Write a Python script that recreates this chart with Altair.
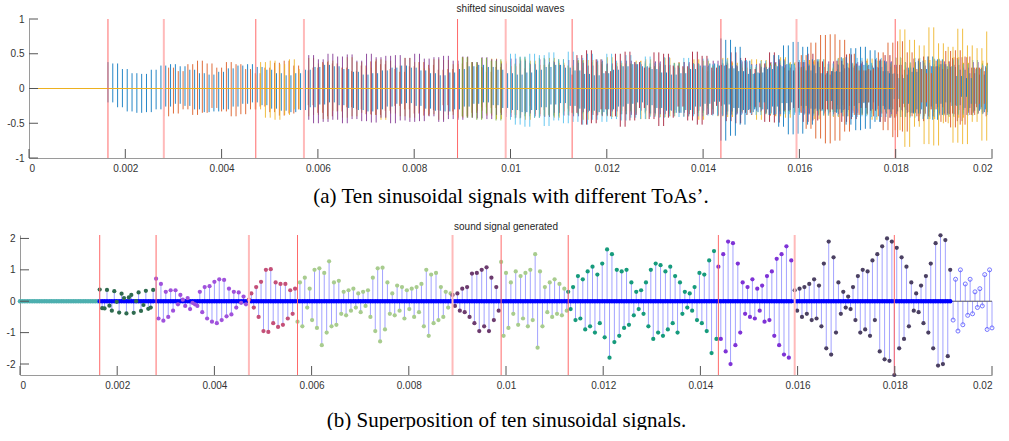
import altair as alt
import pandas as pd

# ------------------------------------------------------------------ data
toa = [0.00164, 0.0028, 0.00471, 0.00571, 0.0089, 0.0099, 0.01128, 0.01437, 0.01594, 0.01799]
signal_end = 0.0192
x_ticks = [0, 0.002, 0.004, 0.006, 0.008, 0.01, 0.012, 0.014, 0.016, 0.018, 0.02]
top_y_ticks = [-1, -0.5, 0, 0.5, 1]
bot_y_ticks = [-2, -1, 0, 1, 2]

# top panel: samples of each shifted wave (hundredths)
wave_01 = [38,-20,36,-27,28,-33,22,-35,21,-34,27,-30,
    33,-26,35,-22,32,-25,27,-30,22,-34,20,-33,24,-30,29,-26,33,-22,35,-20,
    31,-24,27,-29,22,-32,19,-34,22,-31,27,-27,31,-23,34,-20,32,-24,28,-28,
    24,-31,20,-33,22,-30,26,-26,30,-22,33,-21,30,-25,26,-29,22,-32,19,-33,
    23,-30,28,-26,32,-22,34,-20,31,-24,27,-28,22,-31,20,-34,23,-31,27,-27,
    31,-23,34,-21,30,-25,26,-29,21,-32,19,-34,22,-30,27,-26,32,-22,35,-20,
    32,-24,28,-28,23,-32,20,-35,22,-31,28,-26,33,-22,36,-19,33,-23,29,-28,
    25,-31,21,-34,23,-30,28,-26,32,-21,35,-20,31,-25,26,-29,22,-33,20,-34,
    24,-30,29,-25,33,-21,34,-20,30,-25,25,-30,21,-33,20,-35,24,-30,28,-26,
    32,-22,35,-20,31,-24,27,-28,22,-32,20,-34]
wave_02 = [38,-40,30,-36,25,-30,35,-38,40,-35,36,-28,30,-33,38,-40,35,-37,28,-30,
    22,-26,30,-34,37,-39,40,-36,33,-30,26,-24,30,-35,38,-40,36,-33,30,-27,
    25,-30,33,-37,39,-38,35,-32,28,-25,24,-30,32,-36,38,-39,34,-31,27,-24,
    28,-33,36,-40,38,-35,31,-27,24,-28,31,-35,39,-38,36,-32,29,-25,26,-31,
    34,-38,40,-36,33,-29,25,-27,30,-34,38,-39,35,-31,28,-24,27,-32,35,-38,
    39,-36,32,-28,24,-26,31,-35,38,-40,36,-32,29,-25,25,-30,34,-37,39,-37,
    33,-29,26,-25,29,-34,37,-39,37,-33,30,-26,24,-28,32,-36,39,-38,35,-31,
    28,-24,26,-31,35,-38,40,-36,33,-29,25,-27,31,-35,38,-40,36,-32,29,-25,
    25,-30,34,-37,39,-37,33,-29,26,-25,29,-34,37]
wave_03 = [20,-30,38,-42,40,-45,35,-38,42,-30,28,-40,44,-38,36,-44,40,-32,30,-42,
    45,-40,38,-35,30,-38,42,-45,40,-36,33,-40,44,-42,38,-33,29,-37,42,-45,
    41,-38,35,-42,45,-40,36,-32,30,-39,43,-44,39,-35,32,-38,42,-45,40,-37,
    34,-40,44,-42,37,-33,30,-37,41,-45,41,-38,34,-40,45,-41,37,-32,29,-36,
    40,-44,42,-39,35,-41,44,-40,36,-31,29,-37,42,-45,40,-36,33,-40,44,-41,
    37,-33,30,-38,42,-45,41,-37,34,-40,45,-42,38,-33,29,-36,41,-44,42,-39,
    35,-41,44,-40,36,-32,30,-38,43,-45,40,-36,33,-40,44,-41,37,-33,30,-37,
    41,-44,42,-38,35,-41,45,-42,37,-33,30,-36,40]
wave_04 = [30,-45,48,-50,42,-48,50,-45,46,-50,49,-44,40,-47,50,-49,45,-42,47,-50,
    48,-46,44,-48,50,-47,43,-40,45,-48,47,-44,40,-45,46,-42,38,-43,45,-44,
    42,-38,36,-41,43,-42,40,-36,35,-40,42,-41,38,-35,34,-39,41,-40,37,-34,
    33,-38,40,-39,36,-33,32,-37,40,-38,35,-32,31,-36,39,-37,34,-31,30,-35,
    38,-37,35,-32,33,-37,40,-39,36,-33,32,-36,39,-38,35,-32,31,-35,38,-37,
    34,-31,30,-35,38,-36,33,-30,31,-36,39,-37,34,-31,30,-35,38,-36,33,-30,
    31,-36,39,-37,34,-31,30,-35,38,-36,33,-30,31,-36,39,-37,34,-31,30,-35,
    38,-36,33]
wave_05 = [25,-40,45,-42,38,-45,44,-36,40,-46,42,-38,35,-43,45,-40,37,-42,44,-39,
    36,-40,42,-38,33,-37,40,-36,32,-35,38,-37,33,-30,34,-37,36,-33,30,-34,
    36,-35,32,-30,33,-36,37,-33,30,-34,36,-35,31,-29,33,-36,37,-33,30,-34,
    36,-34,31,-29,33,-36,36,-33,30,-34,36,-34,31,-29,33,-36,37,-33,30,-34,
    35,-34,31,-29,32,-36,36,-33,30,-34,36,-34,31,-29,33,-36,37,-33,30,-34,
    35,-34,31,-29,33,-36,36,-33,30,-34,36,-34]
wave_06 = [30,-45,50,-52,46,-55,50,-42,48,-54,52,-46,42,-50,53,-48,44,-52,50,-45,
    42,-48,50,-44,40,-46,48,-42,38,-44,46,-41,37,-42,45,-40,36,-41,44,-40,
    36,-40,43,-39,35,-39,42,-38,34,-38,41,-37,34,-38,40,-37,33,-37,40,-37,
    34,-38,41,-38,35,-39,42,-39,36,-40,43,-40,37,-41,44,-40,37,-41,44,-41,
    38,-42,45,-41,38,-42,44,-40,37,-41,43,-39,36,-40,42,-38,35,-39,41,-37,
    34,-38]
wave_07 = [20,-35,48,-52,55,-50,42,-30,25,-40,50,-55,53,-46,38,-28,30,-44,52,-54,
    50,-42,33,-26,32,-46,53,-52,47,-38,30,-25,34,-47,52,-50,44,-35,28,-27,
    36,-48,52,-49,42,-32,26,-28,38,-48,50,-46,39,-30,25,-30,40,-48,49,-44,
    36,-28,26,-32,42,-48,48,-42,34,-27,27,-34,43,-47,46,-40,32,-27,28,-36,
    44,-47,45,-38,30,-27,30,-40]
wave_08 = [72,-75,70,-68,60,-52,40,-30,
    22,-20,30,-38,
    48,-55,62,-66,67,-65,60,-52,42,-32,
    22,-18,25,-35,
    45,-52,58,-60,60,-58,55,-48,40,-30,22,-15,
    15,-22,30,-36,
    40,-44,46,-45,42,-38,32,-25,18,-12,
    15,-22,28,-30,32]
wave_09 = [25,-35,48,-58,66,
    -72,77,-79,78,-75,70,-62,
    50,-38,26,-20,
    28,-40,52,-60,66,-70,68,-62,52,-40,
    28,-20,22,-30,
    40,-48,54,-56,55,-52,46,-38,30,-22,25]
wave_10 = [30,-60,85,-84,70,-55,62,-80,88,-82,65,-50,60,-78,86,-80,62,-48,58,-75,82]

# bottom panel: superposed signal samples per ToA segment (hundredths)
seg_a = [37,-22,-23,36,-14,-30,32,-2,-36,24,10,-39,12,20,-37,0,28,-31,-12,33,-24,-20,36]
seg_b = [72,-55,55,-62,30,-50,35,-30,35,-10,20,5,-15,10,-25,-5,-10,-15,30,-35,
    45,-55,48,-65,62,-70,70,-60,68,-48,40,-42,30,-20,28,-5,15,-10]
seg_c = [5,25,-20,45,-50,62,-95,100,-98,102,-70,60,-82,55,-75,55,-55,35,-40,40]
seg_d = [-65,60,-80,75,-20,40,-60,100,-85,105,-140,90,-100,127,-80,60,-75,65,-40,30,
    -45,35,-30,40,-20,25,-35,30,-15,35,-50,75,-95,105,-128,107,-90,60,-40,25,
    -45,50,-30,45,-55,35,-25,40,-50,45,-35,55,-80,100,-110,85,-70,90,-60,45,
    -50,30,-20,25]
seg_e = [20,-15,25,-30,40,-35,45,-50,88,-70,90,-95,100,-80,108,-95,75,-60,45,-30]
seg_f = [125,-110,90,-85,60,-40,95,-75,80,-55,90,-80,100,-60,150,-148,95,-80,45,-35,
    60,-50,70,-40,55,-45,40,-30]
seg_g = [30,-25,45,-60,80,-55,70,-90,95,-80,110,-100,85,-70,120,-115,165,-180,150,-130,
    100,-110,95,-85,100,-75,60,-45,30,-25,35,-40,60,-80,100,-120,120,-100,115,-110,
    95,-90,110,-70,80,-100,60,-40,30,-20,25,-30,45,-60,90,-70,85,-95,130,-165,
    160,-120]
seg_h = [110,-120,150,-160,190,-200,185,-140,120,-100,60,-40,45,-50,70,-55,40,-30,50,-65,
    80,-60,95,-110,135,-140,150,-170,175,-180,130]
seg_i = [35,-30,40,-50,45,-40,55,-60,70,-55,50,-80,120,-150,190,-170,140,-100,60,-40,
    30,-20,15,-25,45,-60,80,-100,100,-90,95,-110,130,-60,150,-160,175,-185,200,-190,
    190,-235,170,-150,140,-120,110,-80,60,-30,25,-35,50,-70,80,-100,120,-150,185,-205,
    210,-200,195,-175,100]
seg_j = [-60,70,-95,100,-75,55,-45,70,-40,30,-20,40,-15,85,-90,100,-85]

# ------------------------------------------------------------------ styles
TOP_STEP = 0.0001
BOT_STEP = 0.00005
T_END = 0.02
wave_colors = ["#0072BD", "#D95319", "#EDB120", "#7E2F8E", "#77AC30",
               "#4DBEEE", "#A2142F", "#0072BD", "#D95319", "#EDB120"]
seg_colors = ["#2F6B4F", "#A052DC", "#C44F78", "#A8CC8E", "#6C3B6E",
              "#A8CC8E", "#169B7C", "#7E32D6", "#4B4062"]
top_faded = [1, 3, 5, 8]
bot_faded = [2, 4, 8]

W, H_TOP, H_BOT = 972, 139, 140
TOP_SHIFT = 9       # top plot area starts this many px right of the bottom one
LABEL_FONT = "Liberation Sans"
CAP_FONT = "Liberation Serif"

waves = [wave_01, wave_02, wave_03, wave_04, wave_05,
         wave_06, wave_07, wave_08, wave_09, wave_10]
segs = [seg_a, seg_b, seg_c, seg_d, seg_e, seg_f, seg_g, seg_h, seg_i]


def cap_axis(title, ticks, pad):
    return alt.Axis(values=ticks, labelExpr="'' + datum.value", title=title,
                    titleFont=CAP_FONT, titleFontSize=21, titleFontWeight="normal",
                    titleColor="#000000", titlePadding=pad)


def y_axis(ticks, shift):
    return alt.Axis(values=ticks, labelExpr="'' + datum.value", title=None,
                    minExtent=0, offset=-shift)


def panel(xs, ys, xax, yax, shift, height, body, faded, title, title_dy, tag):
    layers = list(body)
    # one layer per time-of-arrival marker line, spanning the full plot height
    for k, t0 in enumerate(toa):
        is_faded = k in faded
        layers.append(alt.Chart(pd.DataFrame({"t_toa": [t0], "line": [k], "panel": [tag]}))
                      .mark_rule(color="#FFBABA" if is_faded else "#FF6A6A",
                                 strokeWidth=2 if is_faded else 1, opacity=1)
                      .encode(x=alt.X("t_toa:Q", scale=xs, axis=xax),
                              y=alt.value(0), y2=alt.value(height)))
    layers.append(alt.Chart(pd.DataFrame({"t_tick": x_ticks, "panel": tag})).mark_rule(
        color="#555555", strokeWidth=1).encode(
        x=alt.X("t_tick:Q", scale=xs, axis=xax),
        y=alt.value(height), y2=alt.value(height - 9)))
    layers.append(alt.Chart(pd.DataFrame({"v_tick": yax.values, "panel": tag})).mark_rule(
        color="#555555", strokeWidth=1).encode(
        y=alt.Y("v_tick:Q", scale=ys, axis=yax),
        x=alt.value(shift), x2=alt.value(shift + 9)))
    return alt.layer(*layers).properties(
        width=W, height=height,
        title=alt.TitleParams(title, fontSize=10, font=LABEL_FONT, fontWeight="normal",
                              color="#262626", offset=3, anchor="middle",
                              dx=shift / 2, dy=title_dy))


# ------------------------------------------------------------------ top panel
xs_top = alt.Scale(domain=[0, T_END], range=[TOP_SHIFT, W], nice=False, zero=False)
ys_top = alt.Scale(domain=[-1, 1], nice=False)
xax_top = cap_axis("(a) Ten sinusoidal signals with different ToAs’.", x_ticks, 12)
yax_top = y_axis(top_y_ticks, TOP_SHIFT)

top_layers = []
for k, vals in enumerate(waves):
    ts = [toa[k] + TOP_STEP * i for i in range(len(vals) - 1)]
    df = pd.DataFrame({"t": ts,
                       "v": [v / 100 for v in vals[:-1]],
                       "v2": [v / 100 for v in vals[1:]]})
    df = df[df["t"] <= T_END + 1e-9]
    top_layers.append(alt.Chart(df).mark_rule(
        color=wave_colors[k], strokeWidth=1, opacity=0.85).encode(
        x=alt.X("t:Q", scale=xs_top, axis=xax_top),
        y=alt.Y("v:Q", scale=ys_top, axis=yax_top), y2="v2:Q"))
    # flat (zero) part of the wave before its time of arrival
    flat = pd.DataFrame({"t": [0.0], "t2": [toa[k]], "v": [0.0], "wave": [k]})
    top_layers.append(alt.Chart(flat).mark_rule(
        color=wave_colors[k], strokeWidth=1, opacity=1).encode(
        x=alt.X("t:Q", scale=xs_top, axis=xax_top), x2="t2:Q",
        y=alt.Y("v:Q", scale=ys_top, axis=yax_top)))

top = panel(xs_top, ys_top, xax_top, yax_top, TOP_SHIFT, H_TOP, top_layers, top_faded,
            "shifted sinusoidal waves", 3, "top")

# ------------------------------------------------------------------ bottom panel
xs_bot = alt.Scale(domain=[0, T_END], nice=False, zero=False)
ys_bot = alt.Scale(domain=[-2.35, 2.11], nice=False, zero=False)
xax_bot = cap_axis("(b) Superposition of ten sinusoidal signals.", x_ticks, 19)
yax_bot = y_axis(bot_y_ticks, 0)

rows = []
for k, vals in enumerate(segs):
    for i, v in enumerate(vals):
        rows.append({"t": toa[k] + BOT_STEP * i, "v": v / 100, "seg": "s%d" % k})
seg_df = pd.DataFrame(rows)
open_df = pd.DataFrame({"t": [signal_end + BOT_STEP * i for i in range(len(seg_j))],
                        "v": [v / 100 for v in seg_j]})
open_df = open_df[open_df["t"] <= T_END + 1e-9]
all_df = pd.concat([seg_df[["t", "v"]], open_df], ignore_index=True)
all_df["z"] = 0.0
zero_df = seg_df[["t"]].copy()
zero_df["v"] = 0.0
lead_df = pd.DataFrame({"t": [BOT_STEP * i for i in range(int(toa[0] / BOT_STEP) + 1)]})
lead_df["v"] = 0.0

X_B = alt.X("t:Q", scale=xs_bot, axis=xax_bot)
Y_B = alt.Y("v:Q", scale=ys_bot, axis=yax_bot)

bot_layers = [
    alt.Chart(pd.DataFrame({"t": [0.0, T_END], "v": [0.0, 0.0]})).mark_line(
        color="#555555", strokeWidth=1).encode(x=X_B, y=Y_B),
    alt.Chart(all_df).mark_rule(color="#3333FF", opacity=0.45, strokeWidth=1).encode(
        x=X_B, y=Y_B, y2="z:Q"),
    alt.Chart(lead_df).mark_point(filled=True, size=20, color="#4CAFAF", opacity=1).encode(
        x=X_B, y=Y_B),
    alt.Chart(zero_df).mark_point(filled=True, size=20, color="#0000FF", opacity=1).encode(
        x=X_B, y=Y_B),
    alt.Chart(seg_df).mark_point(filled=True, size=18, opacity=1).encode(
        x=X_B, y=Y_B,
        color=alt.Color("seg:N", scale=alt.Scale(domain=["s%d" % k for k in range(len(segs))],
                                                 range=seg_colors), legend=None)),
    alt.Chart(open_df).mark_point(filled=False, size=16, color="#3B3BFF", strokeWidth=1).encode(
        x=X_B, y=Y_B),
]

bottom = panel(xs_bot, ys_bot, xax_bot, yax_bot, 0, H_BOT, bot_layers, bot_faded,
               "sound signal generated", 2, "bottom")

chart = alt.vconcat(top, bottom, spacing=16).properties(
    padding={"left": 6, "top": 4, "right": 4, "bottom": 0}
).configure_view(stroke=None).configure_axis(
    grid=False, ticks=False, domainColor="#9a9a9a", domainWidth=1,
    labelColor="#333333", labelFont=LABEL_FONT, labelFontSize=10, labelPadding=5
).configure_axisY(minExtent=0)

chart.save("out.html", embed_options={"renderer": "svg", "actions": False})
